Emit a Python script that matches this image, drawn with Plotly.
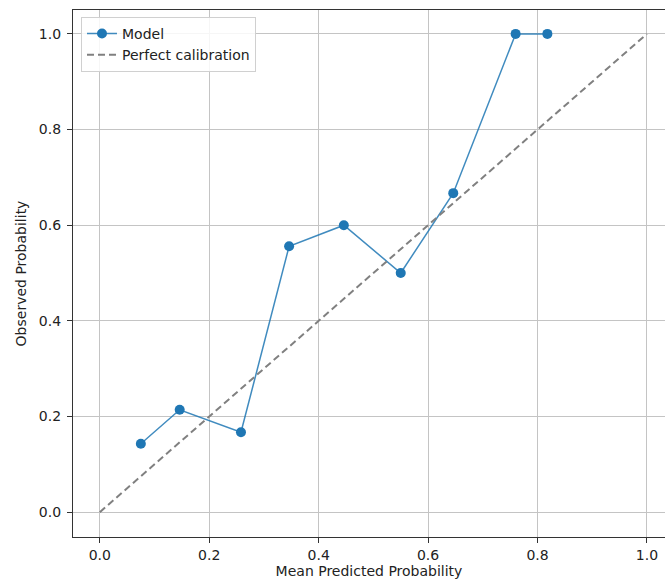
import plotly.graph_objects as go

# Data
mean_pred = [0.075, 0.146, 0.258, 0.346, 0.446, 0.550, 0.646, 0.760, 0.818]
observed = [0.143, 0.214, 0.167, 0.556, 0.600, 0.500, 0.667, 1.0, 1.0]
perfect_x = [0.0, 1.0]
perfect_y = [0.0, 1.0]
tick_vals = [0.0, 0.2, 0.4, 0.6, 0.8, 1.0]
tick_text = ["0.0", "0.2", "0.4", "0.6", "0.8", "1.0"]

FONT = "DejaVu Sans"
FS = 14

fig = go.Figure()
fig.add_trace(go.Scatter(
    x=mean_pred, y=observed, mode="lines+markers", name="Model",
    line=dict(color="rgba(31,119,180,0.85)", width=1.5),
    marker=dict(color="#1f77b4", size=10),
))
fig.add_trace(go.Scatter(
    x=perfect_x, y=perfect_y, mode="lines", name="Perfect calibration",
    line=dict(color="#808080", width=2, dash="7px,4px"),
))

axis_common = dict(
    showgrid=True, gridcolor="#c4c4c4", gridwidth=1,
    zeroline=False, showline=True, linecolor="#333333", linewidth=1.2,
    mirror=True, ticks="outside", ticklen=5, tickcolor="#333333",
    tickfont=dict(family=FONT, size=FS, color="#222222"),
    tickvals=tick_vals, ticktext=tick_text,
)

fig.update_layout(
    width=665, height=580,
    margin=dict(l=73, r=0, t=10, b=43),
    plot_bgcolor="white", paper_bgcolor="white",
    font=dict(family=FONT, size=FS, color="#222222"),
    xaxis=dict(range=[-0.049, 1.033],
               title=dict(text="Mean Predicted Probability", standoff=3,
                          font=dict(family=FONT, size=FS)),
               ticklabelstandoff=0,
               **axis_common),
    yaxis=dict(range=[-0.052, 1.05],
               title=dict(text="Observed Probability", standoff=8,
                          font=dict(family=FONT, size=FS)),
               ticklabelstandoff=3,
               **axis_common),
    legend=dict(x=0.0135, y=0.987, xanchor="left", yanchor="top",
                bgcolor="rgba(255,255,255,0.85)", bordercolor="#d0d0d0",
                borderwidth=1, font=dict(family=FONT, size=FS),
                tracegroupgap=0),
    showlegend=True,
)

fig.write_html("out.html")
